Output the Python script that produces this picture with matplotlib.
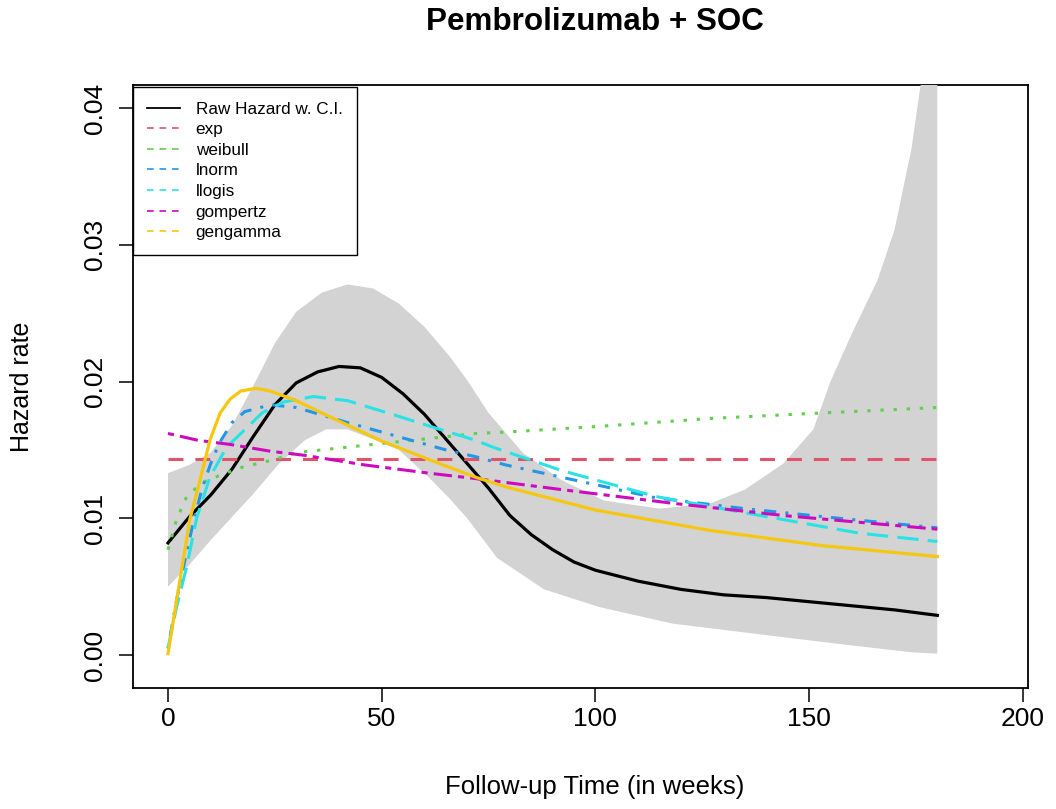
import matplotlib
matplotlib.use("Agg")
import matplotlib.pyplot as plt
from matplotlib.lines import Line2D

plt.rcParams["font.family"] = ["Liberation Sans", "DejaVu Sans"]

# raw hazard estimate with its confidence band
raw_t = [0, 5, 10, 15, 20, 25, 30, 35, 40, 45, 50, 55, 60, 65, 70, 75, 80, 85,
         90, 95, 100, 110, 120, 130, 140, 150, 160, 170, 180]
raw_h = [0.0082, 0.0101, 0.0117, 0.0136, 0.0160, 0.0183, 0.0199, 0.0207, 0.0211,
         0.0210, 0.0203, 0.0191, 0.0176, 0.0158, 0.0140, 0.0122, 0.0102, 0.0088,
         0.0077, 0.0068, 0.0062, 0.0054, 0.0048, 0.0044, 0.0042, 0.0039, 0.0036,
         0.0033, 0.0029]

upper_t = [0, 5, 10, 15, 20, 25, 30, 36, 42, 48, 54, 60, 66, 70, 75, 83, 92, 102,
           115, 127, 135, 144, 151, 155, 160, 166, 170, 174, 176, 180]
upper_h = [0.0133, 0.0139, 0.0148, 0.0168, 0.0197, 0.0228, 0.0251, 0.0265, 0.0271,
           0.0268, 0.0257, 0.0240, 0.0218, 0.0201, 0.0177, 0.0148, 0.0128, 0.0113,
           0.0107, 0.0111, 0.0121, 0.0140, 0.0165, 0.0200, 0.0235, 0.0274, 0.0311,
           0.0371, 0.0415, 0.0500]

lower_t = [0, 5, 10, 15, 20, 26, 32, 37, 42, 47, 54, 61, 66, 70, 77, 88, 101, 118,
           144, 160, 174, 180]
lower_h = [0.0050, 0.0066, 0.0084, 0.0101, 0.0118, 0.0140, 0.0157, 0.0165, 0.0165,
           0.0159, 0.0150, 0.0130, 0.0114, 0.0100, 0.0071, 0.0048, 0.0035, 0.0023,
           0.0013, 0.0007, 0.0002, 0.0001]

# fitted parametric hazards
exp_t = [0, 180]
exp_h = [0.0143, 0.0143]

weib_t = [0, 2, 4.4, 8, 11, 17, 25, 30, 42, 57, 72, 79, 100, 127, 153, 180]
weib_h = [0.0077, 0.0099, 0.0116, 0.0126, 0.0130, 0.0137, 0.0143, 0.0148, 0.0152,
          0.0157, 0.0162, 0.0163, 0.0167, 0.0173, 0.0177, 0.0181]

lnorm_t = [0, 2, 4, 6, 8, 10, 12, 15, 18, 24, 30, 42, 53.5, 65, 72, 79, 95, 114,
           135, 157, 180]
lnorm_h = [0.0005, 0.0040, 0.0070, 0.0098, 0.0122, 0.0140, 0.0155, 0.0170, 0.0178,
           0.0183, 0.0181, 0.0170, 0.0160, 0.0150, 0.0145, 0.0139, 0.0128, 0.0115,
           0.0107, 0.0100, 0.0093]

llogis_t = [0, 2, 4.4, 6.7, 9.8, 13.7, 18.4, 22, 27, 34, 42, 53.5, 63.6, 72, 76,
            92, 114, 135, 162, 180]
llogis_h = [0.0005, 0.0035, 0.0065, 0.0100, 0.0130, 0.0152, 0.0166, 0.0177, 0.0185,
            0.0189, 0.0186, 0.0175, 0.0165, 0.0157, 0.0152, 0.0135, 0.0116, 0.0104,
            0.0089, 0.0083]

gomp_t = [0, 7, 14.5, 24, 32, 46, 61, 72, 92, 118, 144, 180]
gomp_h = [0.0162, 0.0157, 0.0154, 0.0149, 0.0146, 0.0139, 0.0133, 0.0129, 0.0121,
          0.0111, 0.0102, 0.0092]

gg_t = [0, 1.5, 2.8, 5.1, 7.5, 9.8, 12.2, 14.5, 17, 20.5, 24, 30, 38, 49.6, 61, 72,
        79, 100, 127, 153, 180]
gg_h = [0.0001, 0.0030, 0.0055, 0.0099, 0.0128, 0.0157, 0.0177, 0.0187, 0.0193,
        0.0195, 0.0193, 0.0186, 0.0174, 0.0157, 0.0143, 0.0130, 0.0123, 0.0106,
        0.0091, 0.0080, 0.0072]

legend_labels = ["Raw Hazard w. C.I.", "exp", "weibull", "lnorm", "llogis",
                 "gompertz", "gengamma"]
x_ticks = [0, 50, 100, 150, 200]
y_ticks = [0.00, 0.01, 0.02, 0.03, 0.04]

# R default palette colours
cols = ["black", "#DF536B", "#61D04F", "#2297E6", "#28E2E5", "#CD0BBC", "#F5C710"]

fig = plt.figure(figsize=(10.56, 8.09), dpi=100)
ax = fig.add_axes([0.1259, 0.1496, 0.8475, 0.7453])

ax.fill(upper_t + lower_t[::-1], upper_h + lower_h[::-1],
        color="#D3D3D3", lw=0, zorder=3)
ax.plot(raw_t, raw_h, color=cols[0], lw=2.3, zorder=4)

ax.plot(exp_t, exp_h, color=cols[1], lw=2.2, ls=(0, (4.9, 3.9)), zorder=4)
ax.plot(weib_t, weib_h, color=cols[2], lw=2.2, ls=(0, (1.1, 3.2)), zorder=4)
ax.plot(lnorm_t, lnorm_h, color=cols[3], lw=2.2, ls=(0, (1, 3, 4, 3)), zorder=4)
ax.plot(llogis_t, llogis_h, color=cols[4], lw=2.2, ls=(0, (7, 3)), zorder=4)
ax.plot(gomp_t, gomp_h, color=cols[5], lw=2.2, ls=(0, (2, 2, 6, 2)), zorder=4)
ax.plot(gg_t, gg_h, color=cols[6], lw=2.3, zorder=4)

ax.set_xlim(-8.2, 201.2)
ax.set_ylim(-0.00241, 0.04168)
ax.set_xticks(x_ticks)
ax.set_yticks(y_ticks)
ax.set_yticklabels([f"{v:.2f}" for v in y_ticks])
ax.tick_params(axis="both", direction="out", length=10, width=1.1,
               labelsize=19)
ax.tick_params(axis="x", pad=3.4)
ax.tick_params(axis="y", pad=9, labelrotation=90)
for lab in ax.get_yticklabels():
    lab.set_va("center")
for sp in ax.spines.values():
    sp.set_linewidth(1.3)

ax.set_title("Pembrolizumab + SOC", fontsize=22.6, fontweight="bold",
             x=0.516, y=1.1045, pad=0, verticalalignment="center")
ax.set_xlabel("Follow-up Time (in weeks)", fontsize=18.5, va="center")
ax.xaxis.set_label_coords(0.516, -0.164)
ax.set_ylabel("Hazard rate", fontsize=18, va="center")
ax.yaxis.set_label_coords(-0.124, 0.5)

handles = [Line2D([], [], color=cols[0], lw=1.3)]
handles += [Line2D([], [], color=c, lw=1.2, ls=(0, (4, 3.5))) for c in cols[1:]]
leg = ax.legend(handles, legend_labels, loc="upper left",
                bbox_to_anchor=(0, 0.9967), borderaxespad=0, fontsize=12.3,
                handlelength=1.88, handletextpad=0.94, labelspacing=0.33,
                borderpad=0.85, fancybox=False, framealpha=1, edgecolor="black")
leg.get_frame().set_linewidth(1.0)
leg.set_zorder(6)

fig.savefig("out.png", dpi=100)
